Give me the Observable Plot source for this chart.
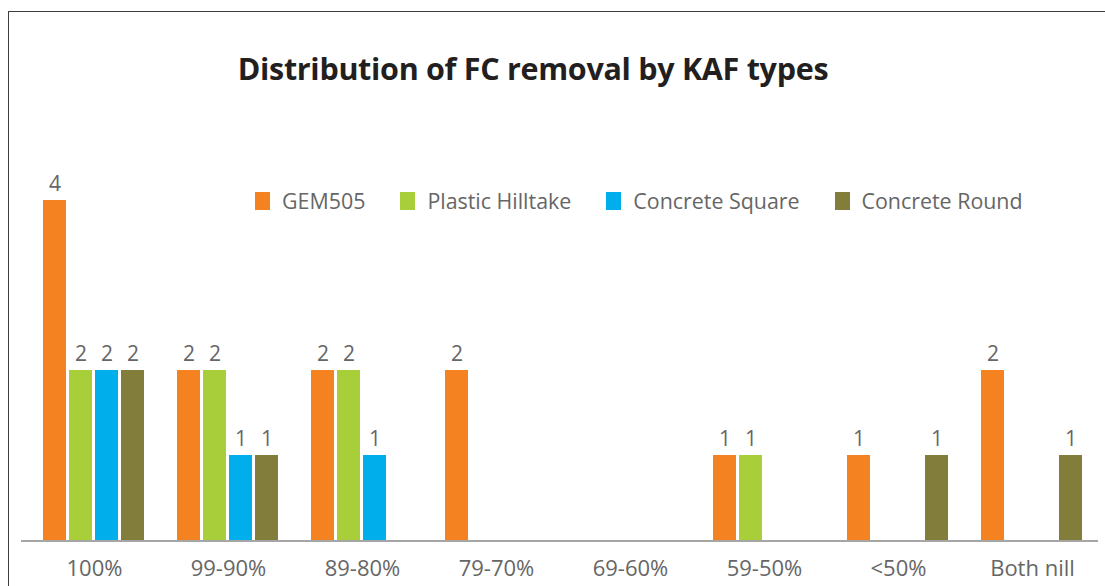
<!DOCTYPE html>
<html>
<head>
<meta charset="utf-8">
<script src="https://cdn.jsdelivr.net/npm/d3@7"></script>
<script src="https://cdn.jsdelivr.net/npm/@observablehq/plot@0.6"></script>
<style>
  html, body { margin: 0; padding: 0; background: #fff; overflow: hidden; }
  #wrap { position: relative; width: 1105px; height: 586px; overflow: hidden; font-family: "Open Sans", sans-serif; }
  #border { position: absolute; left: 8px; top: 11px; width: 1300px; height: 800px; border: 1.5px solid #3c3c3c; box-sizing: border-box; }
  #chart { position: absolute; left: 0; top: 0; }
  #title { position: absolute; left: 0; width: 1066px; top: 47px; text-align: center; font-weight: 700; font-size: 30.5px; color: #231f20; letter-spacing: -0.3px; }
  #legend { position: absolute; left: 255px; top: 186px; display: flex; align-items: center; }
  .item { display: flex; align-items: center; margin-right: 35px; font-size: 21.4px; color: #666; }
  .sw { width: 15px; height: 18px; margin-right: 12px; }
</style>
</head>
<body>
<div id="wrap">
  <div id="border"></div>
  <div id="chart"></div>
  <div id="title">Distribution of FC removal by KAF types</div>
  <div id="legend"></div>
</div>
<script>
const categories = ["100%", "99-90%", "89-80%", "79-70%", "69-60%", "59-50%", "<50%", "Both nill"];
const series = ["GEM505", "Plastic Hilltake", "Concrete Square", "Concrete Round"];
const colors = ["#F48221", "#A8CF3A", "#00AEEC", "#837D3C"];
const gem505 = [4, 2, 2, 2, 0, 1, 1, 2];
const plasticHilltake = [2, 2, 2, 0, 0, 1, 0, 0];
const concreteSquare = [2, 1, 1, 0, 0, 0, 0, 0];
const concreteRound = [2, 1, 0, 0, 0, 0, 1, 1];

const seriesValues = [gem505, plasticHilltake, concreteSquare, concreteRound];
const data = categories.flatMap((c, i) =>
  series.map((s, j) => ({category: c, series: s, value: seriesValues[j][i]}))
);

const chart = Plot.plot({
  width: 1105,
  height: 586,
  marginLeft: 21,
  marginRight: 0,
  marginTop: 200,
  marginBottom: 46,
  style: {fontFamily: "'Open Sans', sans-serif", fontSize: "22px", color: "#666", background: "transparent", overflow: "visible"},
  fx: {domain: categories, paddingInner: 0.227, paddingOuter: 0.147, label: null, axis: "bottom", tickSize: 0, tickPadding: 20},
  x: {domain: series, paddingInner: 0.1, paddingOuter: 0, axis: null},
  y: {domain: [0, 4], axis: null},
  color: {domain: series, range: colors},
  marks: [
    Plot.ruleY([0], {stroke: "#a6a6a6", strokeWidth: 2, insetLeft: -21, insetRight: -14, shapeRendering: "crispEdges"}),
    Plot.barY(data, {fx: "category", x: "series", y: "value", fill: "series"}),
    Plot.text(data.filter(d => d.value > 0), {fx: "category", x: "series", y: "value", text: "value", dy: -16, fill: "#666", fontSize: 21})
  ]
});
document.getElementById("chart").appendChild(chart);

const legend = document.getElementById("legend");
series.forEach((s, i) => {
  const item = document.createElement("div");
  item.className = "item";
  const sw = document.createElement("span");
  sw.className = "sw";
  sw.style.background = colors[i];
  item.appendChild(sw);
  item.appendChild(document.createTextNode(s));
  legend.appendChild(item);
});
</script>
</body>
</html>
